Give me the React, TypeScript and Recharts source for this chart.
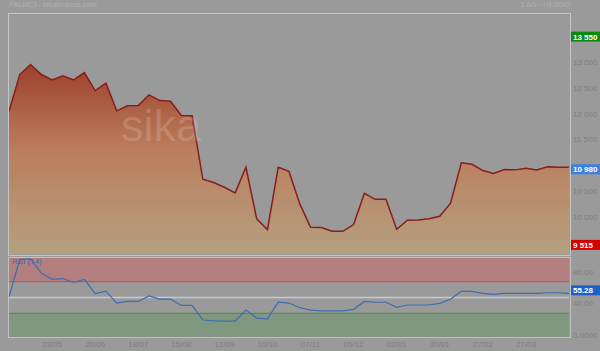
import React from 'react';
import { AreaChart, Area, LineChart, Line, XAxis, YAxis, ReferenceLine, ReferenceArea } from 'recharts';

const dates = [
  '25/04', '02/05', '09/05', '16/05', '23/05', '30/05', '06/06', '13/06', '20/06', '27/06',
  '04/07', '11/07', '18/07', '25/07', '01/08', '08/08', '15/08', '22/08', '29/08', '05/09',
  '12/09', '19/09', '26/09', '03/10', '10/10', '17/10', '24/10', '31/10', '07/11', '14/11',
  '21/11', '28/11', '05/12', '12/12', '19/12', '26/12', '02/01', '09/01', '16/01', '23/01',
  '30/01', '06/02', '13/02', '20/02', '27/02', '06/03', '13/03', '20/03', '27/03', '03/04',
  '10/04', '17/04', '24/04',
];

const closes = [
  12066, 12777, 12971, 12777, 12674, 12752, 12674, 12816, 12467, 12609,
  12074, 12171, 12176, 12384, 12273, 12260, 11983, 11977, 10748, 10684,
  10593, 10484, 10981, 9981, 9773, 10981, 10900, 10271, 9818, 9812,
  9740, 9740, 9870, 10477, 10360, 10360, 9779, 9954, 9961, 9981,
  10031, 10283, 11066, 11039, 10917, 10859, 10936, 10930, 10961, 10930,
  10988, 10981, 10980,
];

const rsiValues = [
  51, 98, 99, 81, 73, 74, 69, 73, 55, 58,
  43, 45, 45, 52, 48, 48, 40, 40, 21.5, 20.6,
  20, 20, 34, 24, 23, 44, 43, 37, 34, 33,
  33, 33, 35, 45, 44, 44, 37.6, 40.5, 40.5, 40.5,
  42.6, 47.7, 57.8, 57.8, 55.3, 54, 55.3, 55.3, 55.3, 55.3,
  56, 56, 55.28,
];

// 11 000 sits behind the last-close badge in the reference, so it is not shown
const priceTicks = [10000, 10500, 11500, 12000, 12500, 13000];
const rsiTicks = [0, 40, 80];
const dateTicks = ['23/05', '20/06', '18/07', '15/08', '12/09', '10/10', '07/11', '05/12', '02/01', '30/01', '27/02', '27/03'];

const periodHigh = 13550;
const periodLow = 9515;
const lastClose = 10980;
const lastRsi = 55.28;

const data = dates.map((d, i) => ({ date: d, close: closes[i], rsi: rsiValues[i] }));

const FONT = '"Liberation Sans", Arial, sans-serif';
const BG = '#9a9a9a';
const TICK = '#7e7e7e';

const fmtPrice = (v: number) => {
  const s = String(Math.round(v));
  return s.length > 3 ? s.slice(0, s.length - 3) + ' ' + s.slice(-3) : s;
};

const badge = (fill: string, text: string, offset: number) => (props: any) => {
  const vb = props.viewBox || {};
  const x = vb.x + vb.width + 2;
  const y = vb.y + offset;
  return (
    <g>
      <rect x={x} y={y - 5} width={29} height={10} fill={fill} />
      <text x={x + 2} y={y + 3} fill="#ffffff" fontSize={8} fontWeight="bold" fontFamily={FONT}>
        {text}
      </text>
    </g>
  );
};

const PriceTick = (props: any) => {
  const { x, y, payload } = props;
  return (
    <text x={x} y={y + 2} fill={TICK} fontSize={8} fontFamily={FONT} textAnchor="start">
      {fmtPrice(payload.value)}
    </text>
  );
};

const RsiTick = (props: any) => {
  const { x, y, payload } = props;
  const v = payload.value;
  return (
    <text x={x} y={y + 1} fill={TICK} fontSize={8} fontFamily={FONT} textAnchor="start">
      {v === 0 ? '0.0000' : v.toFixed(2)}
    </text>
  );
};

const DateTick = (props: any) => {
  const { x, y, payload } = props;
  return (
    <text x={x} y={y + 7} fill={TICK} fontSize={8} fontFamily={FONT} textAnchor="middle">
      {payload.value}
    </text>
  );
};

export default function App() {
  return (
    <div
      style={{
        position: 'fixed',
        left: 0,
        top: 0,
        width: 600,
        height: 351,
        background: BG,
        overflow: 'hidden',
        fontFamily: FONT,
      }}
    >
      <div style={{ position: 'absolute', left: 9, top: 0, fontSize: 7.5, color: '#b0b0b0', lineHeight: '10px' }}>
        PALMCI - sikafinance.com
      </div>
      <div style={{ position: 'absolute', right: 30, top: 0, fontSize: 7.5, color: '#b0b0b0', lineHeight: '10px' }}>
        1 AN - HEBDO
      </div>

      <div style={{ position: 'absolute', left: 0, top: 0 }}>
        <AreaChart width={600} height={256} data={data} margin={{ top: 14, right: 0, left: 9, bottom: 2 }}>
          <defs>
            <linearGradient id="priceFill" x1="0" y1="0" x2="0" y2="1">
              <stop offset="0%" stopColor="#9c412d" />
              <stop offset="45%" stopColor="#bb7e5d" />
              <stop offset="100%" stopColor="#b4a080" />
            </linearGradient>
          </defs>
          <XAxis dataKey="date" hide />
          <YAxis
            orientation="right"
            domain={[9300, 13950]}
            ticks={priceTicks}
            width={31}
            axisLine={false}
            tickLine={false}
            tickSize={2}
            tickMargin={2}
            tick={<PriceTick />}
            interval={0}
          />
          <Area
            type="linear"
            dataKey="close"
            stroke="#8a1c1c"
            strokeWidth={1.5}
            fill="url(#priceFill)"
            fillOpacity={1}
            dot={false}
            activeDot={false}
            isAnimationActive={false}
          />
          <ReferenceLine y={periodHigh} stroke="none" label={badge('#0b8a12', fmtPrice(periodHigh), 2)} />
          <ReferenceLine y={lastClose} stroke="none" label={badge('#3d7fe6', fmtPrice(lastClose), 2)} />
          <ReferenceLine y={periodLow} stroke="none" label={badge('#d40000', fmtPrice(periodLow), 2)} />
        </AreaChart>
      </div>

      <div
        style={{
          position: 'absolute',
          left: 121,
          top: 101,
          fontSize: 45,
          color: 'rgba(255,255,255,0.16)',
          fontFamily: FONT,
          lineHeight: '50px',
          pointerEvents: 'none',
        }}
      >
        sika
      </div>

      <div style={{ position: 'absolute', left: 0, top: 250 }}>
        <LineChart width={600} height={101} data={data} margin={{ top: 8, right: 0, left: 9, bottom: 0 }}>
          <XAxis
            dataKey="date"
            ticks={dateTicks}
            interval={0}
            height={14}
            axisLine={false}
            tickLine={false}
            tickSize={2}
            tickMargin={1}
            tick={<DateTick />}
          />
          <YAxis
            orientation="right"
            domain={[0, 100]}
            ticks={rsiTicks}
            width={31}
            axisLine={false}
            tickLine={false}
            tickSize={2}
            tickMargin={2}
            tick={<RsiTick />}
            interval={0}
          />
          <ReferenceArea y1={70} y2={100} fill="#b27e7e" fillOpacity={1} stroke="none" />
          <ReferenceArea y1={0} y2={30} fill="#7f987f" fillOpacity={1} stroke="none" />
          <ReferenceLine y={70} stroke="#cc4a4a" strokeWidth={1} />
          <ReferenceLine y={30} stroke="#3f8f3f" strokeWidth={1} />
          <ReferenceLine y={50} stroke="#c3cbd8" strokeWidth={1.5} />
          <Line
            type="linear"
            dataKey="rsi"
            stroke="#3b6db3"
            strokeWidth={1.2}
            dot={false}
            activeDot={false}
            isAnimationActive={false}
          />
          <ReferenceLine y={lastRsi} stroke="none" label={badge('#1f5fcc', lastRsi.toFixed(2), -3)} />
        </LineChart>
      </div>

      <div
        style={{
          position: 'absolute',
          left: 12,
          top: 257,
          fontSize: 8,
          color: '#3b6db3',
          lineHeight: '10px',
        }}
      >
        RSI (14)
      </div>

      <div
        style={{
          position: 'absolute',
          left: 8,
          top: 13,
          width: 561,
          height: 241,
          border: '1px solid #c6c6c6',
          pointerEvents: 'none',
        }}
      />
      <div
        style={{
          position: 'absolute',
          left: 8,
          top: 257,
          width: 561,
          height: 79,
          border: '1px solid #c0c0c0',
          pointerEvents: 'none',
        }}
      />
    </div>
  );
}
